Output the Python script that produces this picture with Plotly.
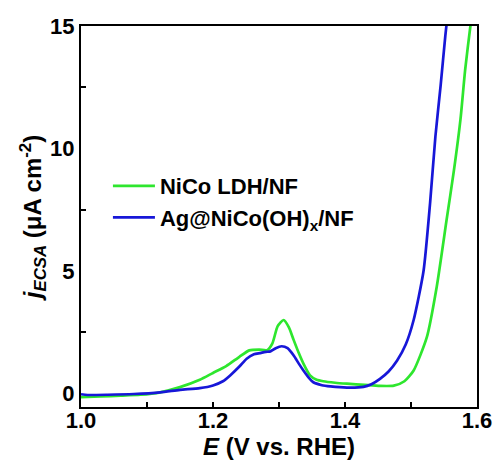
import plotly.graph_objects as go

# Linear sweep voltammetry normalised by ECSA
e_nico = [1.00, 1.03, 1.06, 1.09, 1.12, 1.15, 1.18, 1.20, 1.22, 1.24, 1.255, 1.27,
          1.282, 1.29, 1.298, 1.307, 1.315, 1.322, 1.33, 1.337, 1.347, 1.357, 1.367,
          1.385, 1.403, 1.43, 1.453, 1.474, 1.49, 1.504, 1.524, 1.539, 1.554, 1.565,
          1.575, 1.582, 1.59, 1.594]
j_nico = [-0.15, -0.12, -0.09, -0.05, 0.05, 0.26, 0.56, 0.84, 1.12, 1.5, 1.76, 1.79,
          1.77, 2.05, 2.75, 3.0, 2.7, 2.2, 1.65, 1.22, 0.74, 0.56, 0.5,
          0.44, 0.4, 0.35, 0.31, 0.32, 0.5, 0.94, 2.3, 4.36, 7.1, 9.1,
          11.2, 13.2, 15.0, 15.8]

e_ag = [1.00, 1.01, 1.04, 1.08, 1.12, 1.15, 1.18, 1.20, 1.215, 1.226, 1.24, 1.251,
        1.262, 1.271, 1.28, 1.287, 1.295, 1.304, 1.313, 1.322, 1.33, 1.337, 1.345,
        1.352, 1.365, 1.378, 1.403, 1.428, 1.44, 1.453, 1.466, 1.479, 1.492, 1.504,
        1.519, 1.529, 1.537, 1.545, 1.552, 1.556]
j_ag = [-0.03, -0.06, -0.05, -0.02, 0.05, 0.15, 0.22, 0.33, 0.5, 0.74, 1.1, 1.42,
        1.6, 1.65, 1.7, 1.72, 1.85, 1.93, 1.85, 1.56, 1.22, 0.94, 0.65,
        0.46, 0.34, 0.29, 0.24, 0.27, 0.38, 0.6, 0.9, 1.35, 2.0, 3.0,
        5.0, 7.8, 10.5, 12.6, 14.6, 15.6]

names = ["NiCo LDH/NF", "Ag@NiCo(OH)<sub>x</sub>/NF"]
colors = ["#2ee62e", "#1717d8"]

x_ticks = [1.0, 1.2, 1.4, 1.6]
y_ticks = [0, 5, 10, 15]

FONT = "Liberation Sans, Arial, sans-serif"

fig = go.Figure()
for e, j, name, c in [(e_nico, j_nico, names[0], colors[0]),
                      (e_ag, j_ag, names[1], colors[1])]:
    fig.add_trace(go.Scatter(
        x=e, y=j, name=name, mode="lines",
        line=dict(color=c, width=2.7, shape="spline", smoothing=0.6),
        cliponaxis=True,
    ))

axis_common = dict(
    showline=True, linecolor="black", linewidth=2, mirror=True,
    showgrid=False, zeroline=False,
    tickfont=dict(family=FONT, size=22, color="black", weight="bold"),
)

fig.update_xaxes(
    range=[1.0, 1.6], tickvals=x_ticks, ticktext=[f"{v:.1f}" for v in x_ticks],
    ticks="inside", ticklen=5, tickwidth=2, tickcolor="black",
    ticklabelstandoff=-7,
    minor=dict(dtick=0.1, tick0=1.0, ticks="inside", ticklen=5, tickwidth=2,
               tickcolor="black"),
    title=dict(text="<i>E</i> (V vs. RHE)", standoff=6,
               font=dict(family=FONT, size=24, color="black", weight="bold")),
    **axis_common,
)
fig.update_yaxes(
    range=[-0.55, 15], tickvals=y_ticks, ticktext=[str(v) for v in y_ticks],
    ticks="",
    minor=dict(tickvals=[2.5, 7.5, 12.5], ticks="inside", ticklen=5, tickwidth=2,
               tickcolor="black"),
    title=dict(text="<i>j</i><sub><i>ECSA</i></sub> (μA cm<sup>-2</sup>)", standoff=0,
               font=dict(family=FONT, size=24, color="black", weight="bold")),
    **axis_common,
)

fig.update_layout(
    width=495, height=461,
    margin=dict(l=81, r=18, t=26, b=54, autoexpand=False),
    paper_bgcolor="white", plot_bgcolor="white",
    showlegend=True,
    legend=dict(x=0.068, y=0.635, xanchor="left", yanchor="top",
                itemwidth=42,
                bgcolor="rgba(0,0,0,0)", borderwidth=0,
                font=dict(family=FONT, size=22, color="black", weight="bold")),
)

fig.write_html("out.html")
